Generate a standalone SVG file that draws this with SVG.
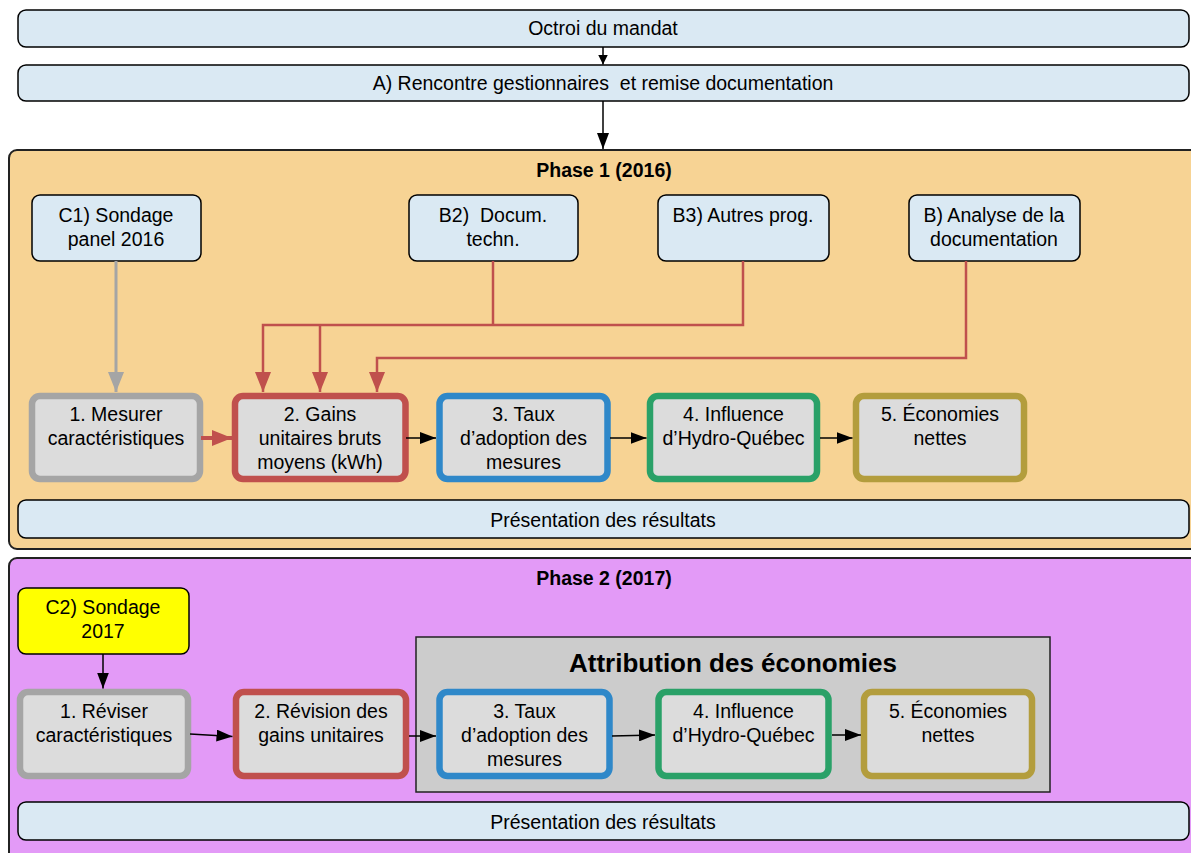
<svg xmlns="http://www.w3.org/2000/svg" width="1191" height="853" viewBox="0 0 1191 853">
<style>
text{font-family:"Liberation Sans",Arial,sans-serif;font-size:19.5px;fill:#000;text-anchor:middle}
.bold{font-weight:bold}
.bar{fill:#dae9f3;stroke:#000;stroke-width:1.5}
.src{fill:#dae9f3;stroke:#000;stroke-width:1.5}
.step{fill:#dcdcdc;stroke-width:6.5}
.g{stroke:#a5a5a5}.r{stroke:#c0504d}.b{stroke:#2f88c9}.gr{stroke:#2aa168}.o{stroke:#b39d3d}
.k{stroke:#000;stroke-width:1.5;fill:none}
.red{stroke:#c0504d;stroke-width:2.5;fill:none}
</style>
<defs>
<marker id="ak" markerUnits="userSpaceOnUse" markerWidth="16" markerHeight="12" refX="16" refY="6" orient="auto"><path d="M0,0 L16,6 L0,12 Z" fill="#000"/></marker>
<marker id="aks" markerUnits="userSpaceOnUse" markerWidth="10" markerHeight="10" refX="10" refY="5" orient="auto"><path d="M0,0 L10,5 L0,10 Z" fill="#000"/></marker>
<marker id="ar" markerUnits="userSpaceOnUse" markerWidth="20" markerHeight="16" refX="20" refY="8" orient="auto"><path d="M0,0 L20,8 L0,16 Z" fill="#c0504d"/></marker>
<marker id="ag" markerUnits="userSpaceOnUse" markerWidth="20" markerHeight="16" refX="20" refY="8" orient="auto"><path d="M0,0 L20,8 L0,16 Z" fill="#a5a5a5"/></marker>
</defs>

<g id="octroi"><rect class="bar" x="18" y="10" width="1171" height="37" rx="8"/><text x="603" y="35">Octroi du mandat</text></g>
<g id="rencontre"><rect class="bar" x="18" y="65" width="1171" height="36" rx="8"/><text x="603" y="90" xml:space="preserve">A) Rencontre gestionnaires  et remise documentation</text></g>

<g id="phase1">
<rect x="9" y="150" width="1200" height="399" rx="8" fill="#f7d394" stroke="#222" stroke-width="2"/>
<text class="bold" x="604" y="177">Phase 1 (2016)</text>
</g>
<g id="c1"><rect class="src" x="32" y="195" width="169" height="66" rx="8"/><text x="116" y="222">C1) Sondage</text><text x="116" y="246">panel 2016</text></g>
<g id="b2"><rect class="src" x="409" y="195" width="169" height="66" rx="8"/><text x="493" y="222" xml:space="preserve">B2)  Docum.</text><text x="493" y="246">techn.</text></g>
<g id="b3"><rect class="src" x="658" y="195" width="171" height="66" rx="8"/><text x="743" y="222">B3) Autres prog.</text></g>
<g id="b"><rect class="src" x="909" y="195" width="171" height="66" rx="8"/><text x="994" y="222">B) Analyse de la</text><text x="994" y="246">documentation</text></g>

<g id="p1s1"><rect class="step g" x="32" y="396" width="168" height="83" rx="8"/><text x="116" y="421">1. Mesurer</text><text x="116" y="445">caractéristiques</text></g>
<g id="p1s2"><rect class="step r" x="235" y="396" width="170.5" height="83" rx="8"/><text x="320" y="421">2. Gains</text><text x="320" y="445">unitaires bruts</text><text x="320" y="469">moyens (kWh)</text></g>
<g id="p1s3"><rect class="step b" x="439.5" y="396" width="168" height="83" rx="8"/><text x="523.5" y="421">3. Taux</text><text x="523.5" y="445">d’adoption des</text><text x="523.5" y="469">mesures</text></g>
<g id="p1s4"><rect class="step gr" x="650" y="396" width="167" height="83" rx="8"/><text x="733.5" y="421">4. Influence</text><text x="733.5" y="445">d’Hydro-Québec</text></g>
<g id="p1s5"><rect class="step o" x="856" y="396" width="168" height="83" rx="8"/><text x="940" y="421">5. Économies</text><text x="940" y="445">nettes</text></g>
<g id="pres1"><rect class="bar" x="18" y="500" width="1171" height="38" rx="8"/><text x="603" y="527">Présentation des résultats</text></g>

<g id="phase2">
<rect x="9" y="558" width="1200" height="320" rx="8" fill="#e39af7" stroke="#222" stroke-width="2"/>
<text class="bold" x="604" y="585">Phase 2 (2017)</text>
</g>
<g id="c2"><rect x="18" y="588" width="171" height="66" rx="8" fill="#ffff00" stroke="#000" stroke-width="1.5"/><text x="103" y="614">C2) Sondage</text><text x="103" y="638">2017</text></g>
<g id="attribution"><rect x="416" y="637" width="634" height="155" fill="#cccccc" stroke="#222" stroke-width="1.5"/><text class="bold" x="733" y="672" style="font-size:26px">Attribution des économies</text></g>
<g id="p2s1"><rect class="step g" x="20" y="692" width="168" height="84" rx="8"/><text x="104" y="718">1. Réviser</text><text x="104" y="742">caractéristiques</text></g>
<g id="p2s2"><rect class="step r" x="236" y="692" width="170" height="84" rx="8"/><text x="321" y="718">2. Révision des</text><text x="321" y="742">gains unitaires</text></g>
<g id="p2s3"><rect class="step b" x="439.5" y="692" width="170" height="84" rx="8"/><text x="524.5" y="718">3. Taux</text><text x="524.5" y="742">d’adoption des</text><text x="524.5" y="766">mesures</text></g>
<g id="p2s4"><rect class="step gr" x="658.5" y="692" width="170" height="84" rx="8"/><text x="743.5" y="718">4. Influence</text><text x="743.5" y="742">d’Hydro-Québec</text></g>
<g id="p2s5"><rect class="step o" x="864" y="692" width="168" height="84" rx="8"/><text x="948" y="718">5. Économies</text><text x="948" y="742">nettes</text></g>
<g id="pres2"><rect class="bar" x="18" y="802" width="1171" height="38" rx="8"/><text x="603" y="829">Présentation des résultats</text></g>

<g id="connectors">
<line class="k" x1="603" y1="47" x2="603" y2="64.5" marker-end="url(#aks)"/>
<line class="k" x1="603" y1="101" x2="603" y2="149" marker-end="url(#ak)"/>
<line x1="116" y1="261" x2="116" y2="392" stroke="#a5a5a5" stroke-width="3" marker-end="url(#ag)"/>
<polyline class="red" points="493,261 493,325"/>
<polyline class="red" points="743,261 743,325 263,325 263,392" marker-end="url(#ar)"/>
<line class="red" x1="320" y1="325" x2="320" y2="392" marker-end="url(#ar)"/>
<polyline class="red" points="966,261 966,358 377,358 377,392" marker-end="url(#ar)"/>
<line x1="201" y1="438" x2="232" y2="438" stroke="#c0504d" stroke-width="4" marker-end="url(#ar)"/>
<line class="k" x1="406" y1="438" x2="436" y2="438" marker-end="url(#ak)"/>
<line class="k" x1="610" y1="438" x2="646.5" y2="438" marker-end="url(#ak)"/>
<line class="k" x1="820" y1="438" x2="852.5" y2="438" marker-end="url(#ak)"/>
<line class="k" x1="103" y1="654" x2="103" y2="688.5" marker-end="url(#ak)"/>
<line class="k" x1="190" y1="734" x2="232.5" y2="736.5" marker-end="url(#ak)"/>
<line class="k" x1="409" y1="736" x2="436" y2="736" marker-end="url(#ak)"/>
<line class="k" x1="612" y1="736" x2="655" y2="735" marker-end="url(#ak)"/>
<line class="k" x1="832" y1="735" x2="861" y2="735" marker-end="url(#ak)"/>
</g>
</svg>
